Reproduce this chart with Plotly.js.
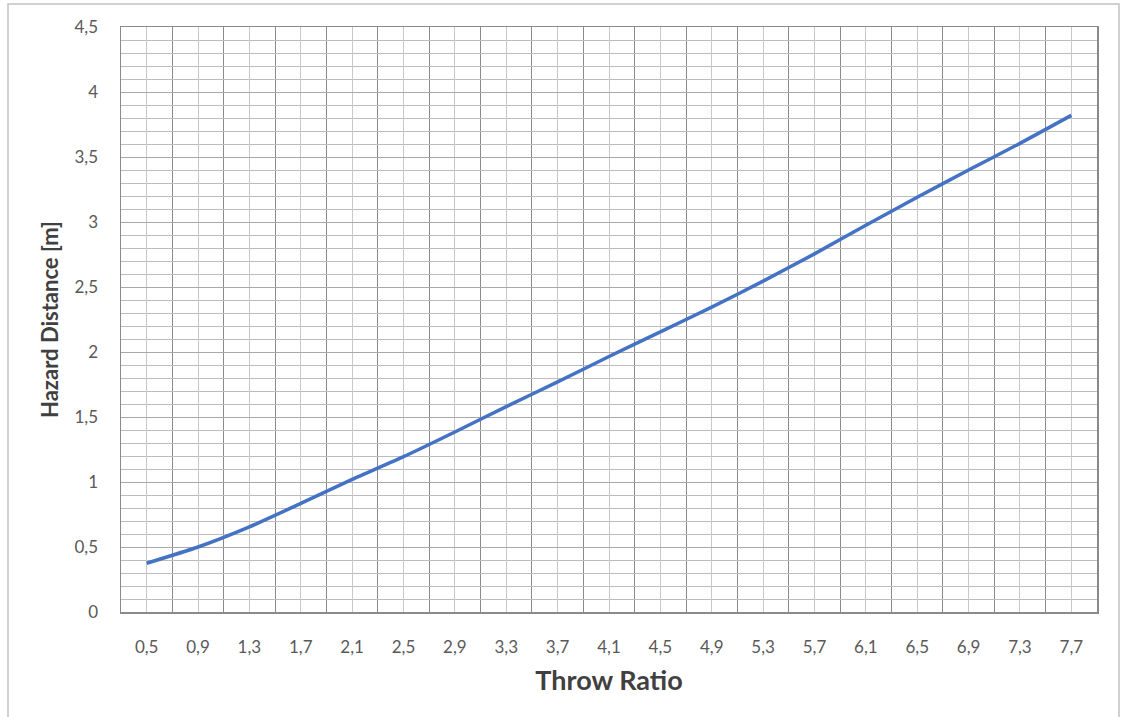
<!DOCTYPE html>
<html>
<head>
<meta charset="utf-8">
<script src="https://cdn.plot.ly/plotly-3.0.1.min.js"></script>
<style>
  html, body { margin: 0; padding: 0; background: #ffffff; }
  #chart { width: 1126px; height: 717px; }
</style>
</head>
<body>
<div id="chart"></div>
<script>
// Throw ratio categories (x) and hazard distance values (y, metres)
const throwRatio = [0.5, 0.9, 1.3, 1.7, 2.1, 2.5, 2.9, 3.3, 3.7, 4.1, 4.5, 4.9, 5.3, 5.7, 6.1, 6.5, 6.9, 7.3, 7.7];
const hazardDistance = [0.375, 0.5, 0.655, 0.835, 1.02, 1.195, 1.385, 1.58, 1.77, 1.965, 2.155, 2.345, 2.545, 2.755, 2.975, 3.19, 3.4, 3.605, 3.82];
const xTickLabels = ["0,5", "0,9", "1,3", "1,7", "2,1", "2,5", "2,9", "3,3", "3,7", "4,1", "4,5", "4,9", "5,3", "5,7", "6,1", "6,5", "6,9", "7,3", "7,7"];
const yTickValues = [0, 0.5, 1, 1.5, 2, 2.5, 3, 3.5, 4, 4.5];
const yTickLabels = ["0", "0,5", "1", "1,5", "2", "2,5", "3", "3,5", "4", "4,5"];
const xTitle = "Throw Ratio";
const yTitle = "Hazard Distance [m]";

const FONT = "Lato, 'Open Sans', 'DejaVu Sans', sans-serif";

const trace = {
  x: throwRatio,
  y: hazardDistance,
  type: "scatter",
  mode: "lines",
  line: { color: "#4472C4", width: 3.5, shape: "spline", smoothing: 0.6 },
  hoverinfo: "x+y",
  showlegend: false
};

const L = 121, R = 29, T = 27, B = 105;
const W = 1126, H = 717;
const pw = W - L - R, ph = H - T - B;
function px2paperX(p) { return (p - L) / pw; }
function px2paperY(p) { return (H - B - p) / ph; }

const layout = {
  width: W,
  height: H,
  margin: { l: L, r: R, t: T, b: B, pad: 0 },
  paper_bgcolor: "#ffffff",
  plot_bgcolor: "#ffffff",
  separators: ",.",
  font: { family: FONT, color: "#595959" },
  xaxis: {
    type: "linear",
    range: [0.3, 7.9],
    tickmode: "array",
    tickvals: throwRatio,
    ticktext: xTickLabels,
    ticks: "",
    ticklabelstandoff: 19,
    tickfont: { family: FONT, size: 17, color: "#595959" },
    showgrid: true,
    gridcolor: "#c8c8c8",
    gridwidth: 1,
    minor: { tickmode: "linear", tick0: 0.3, dtick: 0.4, showgrid: true, gridcolor: "#8a8a8a", gridwidth: 1, ticks: "" },
    zeroline: false,
    showline: true,
    linecolor: "#8a8a8a",
    linewidth: 1.5,
    mirror: true,
    automargin: false,
    fixedrange: true,
    title: { text: "<b>" + xTitle + "</b>", font: { family: FONT, size: 27, color: "#404040" }, standoff: 15 }
  },
  yaxis: {
    type: "linear",
    range: [0, 4.5],
    tickmode: "array",
    tickvals: yTickValues,
    ticktext: yTickLabels,
    ticks: "",
    ticklabelstandoff: 18,
    tickfont: { family: FONT, size: 17, color: "#595959" },
    showgrid: true,
    gridcolor: "#a8a8a8",
    gridwidth: 1,
    minor: { tickmode: "linear", tick0: 0, dtick: 0.1, showgrid: true, gridcolor: "#bcbcbc", gridwidth: 1, ticks: "" },
    zeroline: false,
    showline: true,
    linecolor: "#8a8a8a",
    linewidth: 1.5,
    mirror: true,
    automargin: false,
    fixedrange: true,
    title: { text: "<b>" + yTitle + "</b>", font: { family: FONT, size: 22, color: "#404040" }, standoff: 10 }
  },
  shapes: [
    {
      type: "rect", xref: "paper", yref: "paper",
      x0: px2paperX(8), x1: px2paperX(1119),
      y0: px2paperY(725), y1: px2paperY(4),
      line: { color: "#c2c2c2", width: 1.5 },
      fillcolor: "rgba(0,0,0,0)",
      layer: "below"
    }
  ]
};

Plotly.newPlot("chart", [trace], layout, { displayModeBar: false, staticPlot: true });
</script>
</body>
</html>
